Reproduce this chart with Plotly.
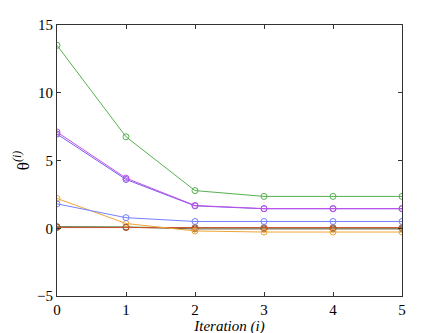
import plotly.graph_objects as go

# iteration index and theta estimates per component
iterations = [0, 1, 2, 3, 4, 5]

theta_green   = [13.5, 6.75, 2.78, 2.35, 2.35, 2.35]
theta_magenta = [7.1, 3.7, 1.68, 1.45, 1.45, 1.45]
theta_violet  = [6.95, 3.6, 1.65, 1.44, 1.44, 1.44]
theta_blue    = [1.8, 0.78, 0.5, 0.5, 0.5, 0.5]
theta_orange  = [2.2, 0.35, -0.2, -0.28, -0.28, -0.28]
theta_red     = [0.05, 0.05, 0.05, 0.05, 0.05, 0.05]
theta_dark    = [0.1, 0.08, -0.05, -0.05, -0.05, -0.05]
theta_lgreen  = [0.12, 0.1, 0.02, 0.0, 0.0, 0.0]

series = [
    (theta_lgreen, "#7cc47c"),
    (theta_dark, "#6a5a40"),
    (theta_red, "#c8522e"),
    (theta_orange, "#f0a538"),
    (theta_blue, "#7480ff"),
    (theta_violet, "#7a5cf0"),
    (theta_magenta, "#c050e8"),
    (theta_green, "#55b050"),
]

SERIF = "Liberation Serif"

fig = go.Figure()
for vals, col in series:
    fig.add_trace(go.Scatter(
        x=iterations, y=vals, mode="lines+markers",
        line=dict(color=col, width=1),
        marker=dict(symbol="circle-open", size=6, color=col, line=dict(width=1)),
        showlegend=False,
    ))

axis_common = dict(
    showline=True, linecolor="#333333", linewidth=1, mirror="ticks",
    ticks="inside", ticklen=4, tickcolor="#333333",
    showgrid=False, zeroline=False, automargin=False,
    tickfont=dict(family=SERIF, size=15, color="black"),
)

fig.update_xaxes(range=[0, 5], tickvals=[0, 1, 2, 3, 4, 5],
                 title=dict(text="<i>Iteration (i)</i>", standoff=0,
                            font=dict(family=SERIF, size=15, color="black")),
                 **axis_common)
fig.update_yaxes(range=[-5, 15], tickvals=[-5, 0, 5, 10, 15],
                 title=dict(text="θ<sup><i>(i)</i></sup>", standoff=3,
                            font=dict(family=SERIF, size=17, color="black")),
                 **axis_common)

# page body adds 8px, so margins are offset to land the axes where the reference has them
fig.update_layout(
    width=443, height=333,
    margin=dict(l=49, r=49, t=17, b=45),
    plot_bgcolor="white", paper_bgcolor="white",
)

fig.write_html("out.html")
